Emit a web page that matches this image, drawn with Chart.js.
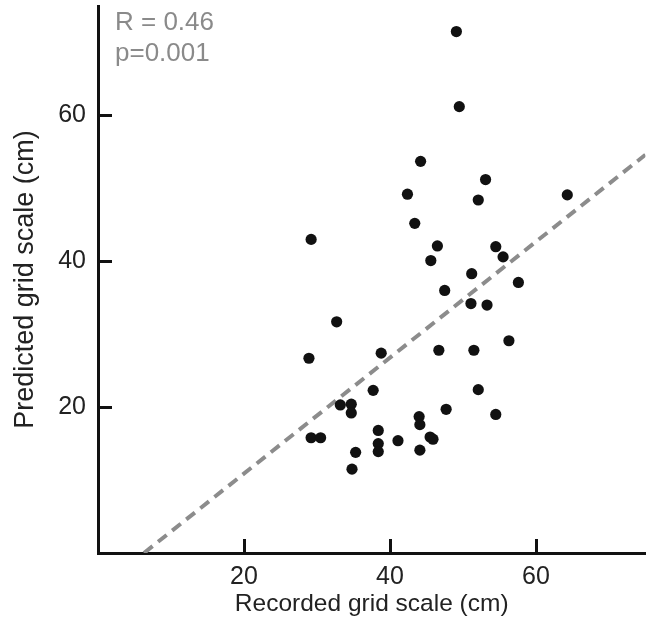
<!DOCTYPE html>
<html>
<head>
<meta charset="utf-8">
<script src="https://cdn.jsdelivr.net/npm/chart.js@4.4.1/dist/chart.umd.min.js"></script>
<style>
  html, body { margin: 0; padding: 0; background: #ffffff; }
  #wrap { width: 651px; height: 629px; }
</style>
</head>
<body>
<div id="wrap"><canvas id="c" width="651" height="629"></canvas></div>
<script>
// Recorded grid scale (cm)
const recorded = [49.1, 49.5, 44.2, 53.1, 42.4, 52.1, 64.3, 43.4, 29.2, 46.5,
                  54.5, 45.6, 55.5, 51.2, 57.6, 47.5, 51.1, 53.3, 32.7, 28.9,
                  38.8, 46.7, 51.5, 56.3, 37.7, 52.1, 33.2, 34.7, 34.7, 47.7,
                  54.5, 44.0, 44.1, 38.4, 29.2, 30.5, 45.5, 45.9, 41.1, 38.4,
                  38.4, 35.3, 44.1, 34.8];
// Predicted grid scale (cm)
const predicted = [71.5, 61.2, 53.7, 51.2, 49.2, 48.4, 49.1, 45.2, 43.0, 42.1,
                   42.0, 40.1, 40.6, 38.3, 37.1, 36.0, 34.2, 34.0, 31.7, 26.7,
                   27.4, 27.8, 27.8, 29.1, 22.3, 22.4, 20.3, 20.4, 19.2, 19.7,
                   19.0, 18.7, 17.6, 16.8, 15.8, 15.8, 15.9, 15.6, 15.4, 15.0,
                   13.9, 13.8, 14.1, 11.5];
// Regression line end points
const fitX = [6.3, 75];
const fitY = [0, 54.6];
const xTicks = [20, 40, 60];
const yTicks = [20, 40, 60];
const xTitle = 'Recorded grid scale (cm)';
const yTitle = 'Predicted grid scale (cm)';
const statLines = ['R = 0.46', 'p=0.001'];

const FONT = "'Liberation Sans', Arial, Helvetica, sans-serif";

const points = recorded.map((x, i) => ({ x: x, y: predicted[i] }));
const fit = fitX.map((x, i) => ({ x: x, y: fitY[i] }));

const innerTicks = {
  id: 'innerTicks',
  afterDatasetsDraw(chart) {
    const ctx = chart.ctx;
    const xs = chart.scales.x, ys = chart.scales.y;
    const area = chart.chartArea;
    ctx.save();
    ctx.strokeStyle = '#111111';
    ctx.lineWidth = 3;
    xTicks.forEach(v => {
      const px = Math.round(xs.getPixelForValue(v)) + 0.5;
      ctx.beginPath();
      ctx.moveTo(px, area.bottom);
      ctx.lineTo(px, area.bottom - 14);
      ctx.stroke();
    });
    yTicks.forEach(v => {
      const py = Math.round(ys.getPixelForValue(v)) + 0.5;
      ctx.beginPath();
      ctx.moveTo(area.left, py);
      ctx.lineTo(area.left + 14, py);
      ctx.stroke();
    });
    // statistics text
    ctx.fillStyle = '#8a8a8a';
    ctx.font = '26px ' + FONT;
    ctx.textAlign = 'left';
    ctx.textBaseline = 'alphabetic';
    statLines.forEach((t, i) => {
      ctx.fillText(t, area.left + 17, 30 + i * 31);
    });
    ctx.restore();
  }
};

function zeroPad(s) {
  s.paddingTop = 0; s.paddingBottom = 0; s.paddingLeft = 0; s.paddingRight = 0;
}

new Chart(document.getElementById('c'), {
  type: 'scatter',
  data: {
    datasets: [
      {
        type: 'scatter',
        data: points,
        backgroundColor: '#111111',
        borderWidth: 0,
        pointRadius: 5.6,
        pointHoverRadius: 5.6,
        order: 0
      },
      {
        type: 'line',
        data: fit,
        borderColor: '#8c8c8c',
        borderWidth: 4,
        borderDash: [11, 7],
        pointRadius: 0,
        fill: false,
        tension: 0,
        order: 1
      }
    ]
  },
  options: {
    responsive: false,
    animation: false,
    events: [],
    layout: { padding: { top: 6, right: 4, left: 0, bottom: 0 } },
    plugins: { legend: { display: false }, tooltip: { enabled: false } },
    scales: {
      x: {
        type: 'linear',
        min: 0,
        max: 75,
        afterBuildTicks: s => { s.ticks = xTicks.map(v => ({ value: v })); },
        afterFit: s => { s.height = 76; zeroPad(s); },
        grid: { display: true, drawOnChartArea: false, drawTicks: false, color: 'rgba(0,0,0,0)' },
        border: { display: true, color: '#111111', width: 3 },
        ticks: { color: '#222222', font: { family: FONT, size: 25 }, padding: 9, maxRotation: 0 },
        title: { display: true, text: xTitle, color: '#222222', font: { family: FONT, size: 24.5 }, padding: { top: 0, bottom: 10 } }
      },
      y: {
        type: 'linear',
        min: 0,
        max: 75,
        afterBuildTicks: s => { s.ticks = yTicks.map(v => ({ value: v })); },
        afterFit: s => { s.width = 98; zeroPad(s); },
        grid: { display: true, drawOnChartArea: false, drawTicks: false, color: 'rgba(0,0,0,0)' },
        border: { display: true, color: '#111111', width: 3 },
        ticks: { color: '#222222', font: { family: FONT, size: 25 }, padding: 12 },
        title: { display: true, text: yTitle, color: '#222222', font: { family: FONT, size: 27 }, padding: { top: 9, bottom: 0 } }
      }
    }
  },
  plugins: [innerTicks]
});
</script>
</body>
</html>
